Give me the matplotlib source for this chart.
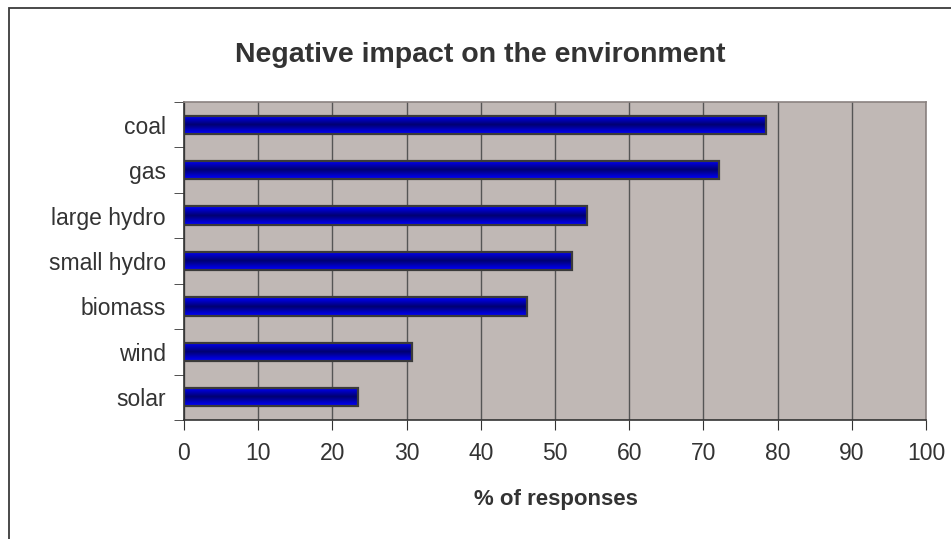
import numpy as np
import matplotlib.pyplot as plt
from matplotlib.colors import LinearSegmentedColormap
from matplotlib.patches import Rectangle

plt.rcParams['font.family'] = ['Liberation Sans', 'DejaVu Sans']

# survey results
sources = ['coal', 'gas', 'large hydro', 'small hydro', 'biomass', 'wind', 'solar']
percent = [78.4, 72.1, 54.3, 52.3, 46.2, 30.7, 23.5]

fig = plt.figure(figsize=(9.51, 5.39), dpi=100)

# chart border
fig.patches.append(Rectangle((9 / 951, -0.05), 1.0, 1 - 8 / 539 + 0.05,
                             transform=fig.transFigure, fill=False,
                             edgecolor='#3a3a3a', linewidth=1.3))

ax = fig.add_axes([184 / 951, 1 - 420 / 539, 742 / 951, 318 / 539])
ax.set_facecolor('#c0b8b5')

ypos = np.arange(len(sources))
h = 0.4

# blue bars shaded darker toward the middle
grad = LinearSegmentedColormap.from_list('barshade', ['#0000ff', '#000070', '#0000ff'])
shade = np.linspace(0, 1, 64).reshape(-1, 1)
for y, v in zip(ypos, percent):
    ax.imshow(shade, cmap=grad, aspect='auto', extent=(0, v, y + h / 2, y - h / 2),
              origin='upper', zorder=3)
ax.barh(ypos, percent, height=h, facecolor='none', edgecolor='#3a3a3a',
        linewidth=1.6, zorder=4)

ax.set_xlim(0, 100)
ax.set_ylim(len(sources) - 0.5, -0.5)
ax.set_xticks(np.arange(0, 101, 10))
ax.set_yticks(ypos)
ax.set_yticklabels(sources)
ax.set_yticks(np.arange(-0.5, len(sources), 1), minor=True)
ax.tick_params(axis='y', which='major', length=0, pad=13, labelsize=16.5, labelcolor='#333333')
ax.tick_params(axis='y', which='minor', length=7, color='#333333', direction='out')
ax.tick_params(axis='x', length=7, color='#333333', pad=9, labelsize=16.5, labelcolor='#333333')

ax.grid(axis='x', color='#555555', linewidth=1.0)
ax.set_axisbelow(True)
for side in ['left', 'bottom']:
    ax.spines[side].set_color('#333333')
    ax.spines[side].set_linewidth(1.2)
for side in ['top', 'right']:
    ax.spines[side].set_color('#8a8280')
    ax.spines[side].set_linewidth(1.2)

fig.text(556 / 951, 1 - 500 / 539, '% of responses', ha='center', va='center',
         fontsize=16, fontweight='bold', color='#333333')
fig.text(480 / 951, 1 - 55 / 539, 'Negative impact on the environment', ha='center', va='center',
         fontsize=20.5, fontweight='bold', color='#333333')

fig.savefig('out.png', dpi=100)
